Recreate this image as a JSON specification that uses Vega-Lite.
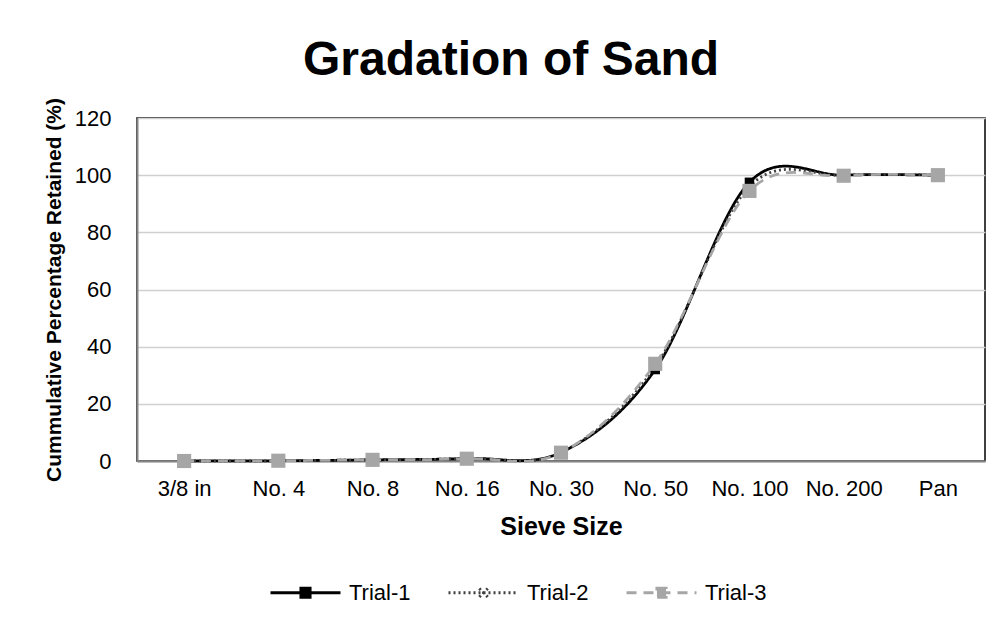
{
  "$schema": "https://vega.github.io/schema/vega-lite/v6.json",
  "width": 848,
  "height": 343,
  "autosize": "none",
  "padding": {"left": 137, "top": 118, "right": 19, "bottom": 168},
  "background": "white",
  "config": {
    "font": "Liberation Sans",
    "view": {"stroke": "#000000", "strokeWidth": 1.5}
  },
  "title": {
    "text": "Gradation of Sand",
    "font": "Liberation Sans",
    "fontSize": 48,
    "fontWeight": "bold",
    "color": "#000000",
    "anchor": "middle",
    "dx": -50,
    "offset": 13
  },
  "data": {
    "values": [
      {"sieve": "3/8 in", "trial": "Trial-1", "value": 0},
      {"sieve": "No. 4", "trial": "Trial-1", "value": 0.1},
      {"sieve": "No. 8", "trial": "Trial-1", "value": 0.4},
      {"sieve": "No. 16", "trial": "Trial-1", "value": 0.9},
      {"sieve": "No. 30", "trial": "Trial-1", "value": 3.0},
      {"sieve": "No. 50", "trial": "Trial-1", "value": 32.0},
      {"sieve": "No. 100", "trial": "Trial-1", "value": 97.5},
      {"sieve": "No. 200", "trial": "Trial-1", "value": 100},
      {"sieve": "Pan", "trial": "Trial-1", "value": 100},
      {"sieve": "3/8 in", "trial": "Trial-2", "value": 0},
      {"sieve": "No. 4", "trial": "Trial-2", "value": 0.1},
      {"sieve": "No. 8", "trial": "Trial-2", "value": 0.4},
      {"sieve": "No. 16", "trial": "Trial-2", "value": 0.9},
      {"sieve": "No. 30", "trial": "Trial-2", "value": 3.0},
      {"sieve": "No. 50", "trial": "Trial-2", "value": 33.0},
      {"sieve": "No. 100", "trial": "Trial-2", "value": 96.0},
      {"sieve": "No. 200", "trial": "Trial-2", "value": 100},
      {"sieve": "Pan", "trial": "Trial-2", "value": 100},
      {"sieve": "3/8 in", "trial": "Trial-3", "value": 0},
      {"sieve": "No. 4", "trial": "Trial-3", "value": 0.1},
      {"sieve": "No. 8", "trial": "Trial-3", "value": 0.4},
      {"sieve": "No. 16", "trial": "Trial-3", "value": 0.8},
      {"sieve": "No. 30", "trial": "Trial-3", "value": 2.9},
      {"sieve": "No. 50", "trial": "Trial-3", "value": 34.0},
      {"sieve": "No. 100", "trial": "Trial-3", "value": 94.5},
      {"sieve": "No. 200", "trial": "Trial-3", "value": 99.8},
      {"sieve": "Pan", "trial": "Trial-3", "value": 100}
    ]
  },
  "encoding": {
    "x": {
      "field": "sieve",
      "type": "ordinal",
      "sort": ["3/8 in", "No. 4", "No. 8", "No. 16", "No. 30", "No. 50", "No. 100", "No. 200", "Pan"],
      "scale": {"type": "point", "padding": 0.5},
      "axis": {
        "title": "Sieve Size",
        "titleFont": "Liberation Sans",
        "titleFontSize": 25,
        "titleFontWeight": "bold",
        "titleColor": "#000000",
        "titlePadding": 15,
        "labelFont": "Liberation Sans",
        "labelFontSize": 22,
        "labelColor": "#000000",
        "labelAngle": 0,
        "labelPadding": 17,
        "ticks": false,
        "grid": false,
        "domainColor": "#868686",
        "domainWidth": 2
      }
    },
    "y": {
      "field": "value",
      "type": "quantitative",
      "scale": {"domain": [0, 120], "nice": false},
      "axis": {
        "title": "Cummulative Percentage Retained (%)",
        "titleFont": "Liberation Sans",
        "titleFontSize": 21,
        "titleFontWeight": "bold",
        "titleColor": "#000000",
        "titlePadding": 10,
        "labelFont": "Liberation Sans",
        "labelFontSize": 22,
        "labelColor": "#000000",
        "labelPadding": 26,
        "values": [0, 20, 40, 60, 80, 100, 120],
        "ticks": false,
        "domainColor": "#868686",
        "domainWidth": 2,
        "gridColor": "#d0d0d0",
        "gridWidth": 1.3
      }
    }
  },
  "layer": [
    {
      "mark": {"type": "line", "interpolate": "cardinal", "tension": 0, "strokeWidth": 2.75},
      "encoding": {
        "color": {
          "field": "trial",
          "type": "nominal",
          "scale": {"domain": ["Trial-1", "Trial-2", "Trial-3"], "range": ["#000000", "#404040", "#a6a6a6"]},
          "legend": {
            "title": null,
            "orient": "none",
            "direction": "horizontal",
            "legendX": 132,
            "legendY": 438,
            "padding": 0,
            "labelFont": "Liberation Sans",
            "labelFontSize": 22,
            "labelColor": "#000000",
            "labelOffset": 7,
            "columnPadding": 31,
            "symbolType": "M-1,0H1M-0.13,-0.13H0.13V0.13H-0.13Z",
            "symbolSize": 4900,
            "symbolStrokeWidth": 3,
            "encode": {
              "symbols": {
                "update": {
                  "shape": {"signal": "datum.value === 'Trial-2' ? 'M-1,0H1M-0.12,-0.12L0.12,0.12M-0.12,0.12L0.12,-0.12' : 'M-1,0H1M-0.13,-0.13H0.13V0.13H-0.13Z'"},
                  "size": {"value": 4900},
                  "fill": {"signal": "datum.value === 'Trial-3' ? '#a6a6a6' : '#000000'"},
                  "strokeDash": {"signal": "datum.value === 'Trial-2' ? [2, 3] : (datum.value === 'Trial-3' ? [10, 7] : [1, 0])"}
                }
              }
            }
          }
        },
        "strokeDash": {
          "field": "trial",
          "type": "nominal",
          "scale": {"domain": ["Trial-1", "Trial-2", "Trial-3"], "range": [[1, 0], [2, 3], [10, 7]]},
          "legend": null
        }
      }
    },
    {
      "transform": [{"filter": "datum.trial === 'Trial-1'"}],
      "mark": {"type": "point", "shape": "square", "filled": true, "opacity": 1, "color": "#000000", "size": 90}
    },
    {
      "transform": [{"filter": "datum.trial === 'Trial-2'"}],
      "mark": {"type": "point", "shape": "M-1,-1L1,1M-1,1L1,-1", "filled": false, "opacity": 1, "color": "#000000", "strokeWidth": 2.2, "size": 60}
    },
    {
      "transform": [{"filter": "datum.trial === 'Trial-3'"}],
      "mark": {"type": "point", "shape": "square", "filled": true, "opacity": 1, "color": "#a6a6a6", "size": 200}
    }
  ]
}
